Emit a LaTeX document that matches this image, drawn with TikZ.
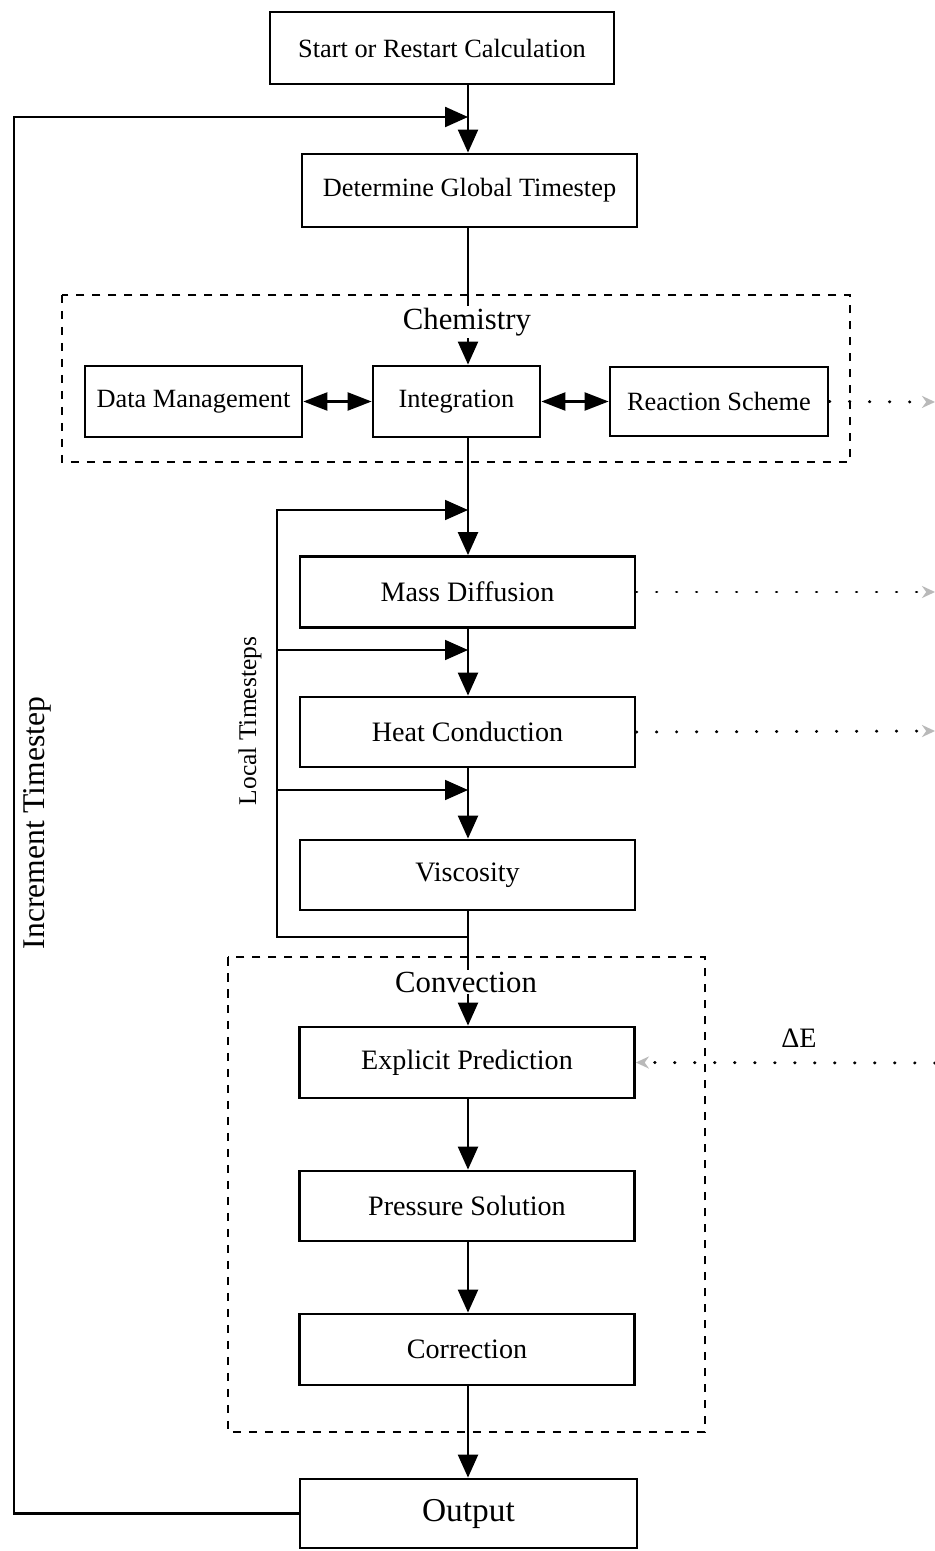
\documentclass[tikz,border=0pt]{standalone}
\usepackage{fontspec}
\setmainfont{Liberation Serif}
\usetikzlibrary{arrows.meta,calc}
\begin{document}
\begin{tikzpicture}[x=0.02cm,y=-0.02cm,
 box/.style={draw, line width=1.6pt, inner sep=0pt, minimum width=6.7cm, minimum height=1.42cm, font=\fontsize{15}{17}\selectfont},
 lowbox/.style={box, font=\fontsize{16}{18}\selectfont},
 conn/.style={line width=1.3pt},
 arr/.style={conn, -{Triangle[length=0.46cm,width=0.4cm]}},
 darr/.style={conn, {Triangle[length=0.48cm,width=0.36cm]}-{Triangle[length=0.48cm,width=0.36cm]}},
 group/.style={draw, line width=1.5pt, dash pattern=on 0.17cm off 0.15cm},
 grouplabel/.style={fill=white, inner sep=1pt, font=\fontsize{17.5}{20}\selectfont},
 dotline/.style={line width=1.7pt, line cap=round, dash pattern=on 0.01cm off 0.39cm, -{Stealth[length=0.26cm,width=0.24cm,gray!55]}},
 ]
\useasboundingbox[fill=white] (0,0) rectangle (935,1551);

% group frames
\draw[group] (62,295) rectangle (850,462);
\draw[group] (228,957) rectangle (705,1432);

% nodes
\node[box, minimum width=6.88cm, minimum height=1.44cm] (start) at (442,48) {Start or Restart Calculation};
\node[box, minimum height=1.46cm] (det) at (469.5,190.5) {Determine Global Timestep};
\node[box, minimum width=4.34cm] (dm) at (193.5,401.5) {Data Management};
\node[box, minimum width=3.34cm] (integ) at (456.5,401.5) {Integration};
\node[box, minimum width=4.36cm, minimum height=1.38cm] (rs) at (719,401.5) {Reaction Scheme};
\node[lowbox] (mass) at (467.5,592) {Mass Diffusion};
\node[lowbox, minimum height=1.4cm] (heat) at (467.5,732) {Heat Conduction};
\node[lowbox, minimum height=1.4cm] (visc) at (467.5,875) {Viscosity};
\node[lowbox] (expl) at (467,1062.5) {Explicit Prediction};
\node[lowbox, minimum height=1.4cm] (press) at (467,1206) {Pressure Solution};
\node[lowbox] (corr) at (467,1349.5) {Correction};
\node[box, minimum width=6.74cm, minimum height=1.38cm, font=\fontsize{19}{21}\selectfont] (out) at (468.5,1513.5) {Output};

% helper coordinates
\coordinate (sp) at (468,0);
\coordinate (inc) at (468,117);
\coordinate (incL) at (14,0);
\coordinate (lt0) at (468,510);
\coordinate (lt1) at (468,650);
\coordinate (lt2) at (468,790);
\coordinate (lt3) at (468,937);
\coordinate (ltx) at (277,0);
\coordinate (e1) at (935,402);
\coordinate (e2) at (935,592);
\coordinate (e3) at (935,731);
\coordinate (e4) at (935,1063);

% main spine
\draw[arr] (start.south -| sp) -- (det.north -| sp);
\draw[arr] (det.south -| sp) -- (integ.north -| sp);
\draw[arr] (integ.south -| sp) -- (mass.north -| sp);
\draw[arr] (mass.south -| sp) -- (heat.north -| sp);
\draw[arr] (heat.south -| sp) -- (visc.north -| sp);
\draw[arr] (visc.south -| sp) -- (expl.north -| sp);
\draw[arr] (expl.south -| sp) -- (press.north -| sp);
\draw[arr] (press.south -| sp) -- (corr.north -| sp);
\draw[arr] (corr.south -| sp) -- (out.north -| sp);

% chemistry double arrows
\draw[darr] (dm.east) -- (integ.west);
\draw[darr] (integ.east) -- (rs.west);

% increment loop
\draw[arr] (out.west) -| (incL |- inc) -- (inc);

% local timestep loop
\draw[arr, line width=1pt] (lt3) -| (ltx |- lt0) -- (lt0);
\draw[arr, line width=1pt] (ltx |- lt1) -- (lt1);
\draw[arr, line width=1pt] (ltx |- lt2) -- (lt2);

% dotted links
\draw[dotline] (rs.east) -- (e1);
\draw[dotline] (mass.east) -- (e2);
\draw[dotline] (heat.east) -- (e3);
\draw[dotline] (e4) -- (expl.east);

% labels
\node[grouplabel] (chemlab) at (467,322) {Chemistry};
\node[grouplabel] (convlab) at (466,982) {Convection};
\node[rotate=90, font=\fontsize{14.5}{17}\selectfont] (ltlab) at (250,721) {Local Timesteps};
\node[rotate=90, font=\fontsize{18}{20}\selectfont] (inclab) at (37,823) {Increment Timestep};
\node[font=\fontsize{16}{18}\selectfont] (de) at (799,1038) {ΔE};
\end{tikzpicture}
\end{document}
